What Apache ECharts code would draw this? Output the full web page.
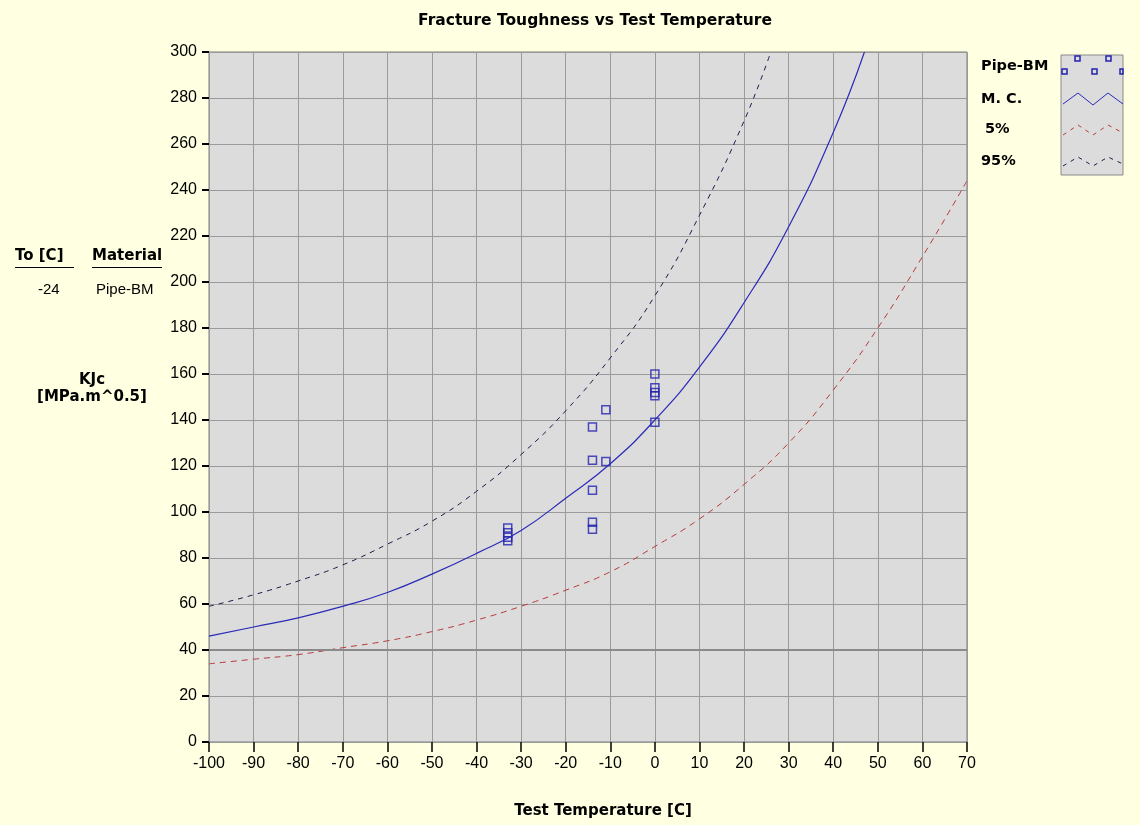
<!DOCTYPE html>
<html>
<head>
<meta charset="utf-8">
<script src="https://cdn.jsdelivr.net/npm/echarts@6/dist/echarts.min.js"></script>
<style>
  html, body { margin: 0; padding: 0; background: #ffffe1; }
  #chart { width: 1140px; height: 825px; }
</style>
</head>
<body>
<div id="chart"></div>
<script>
// measured KJc points (Pipe-BM)
const scatterTemp = [-33, -33, -33, -33, -14, -14, -14, -14, -14, -11, -11, 0, 0, 0, 0, 0];
const scatterK = [93, 91, 89, 87.5, 137, 122.5, 109.5, 95.5, 92.5, 144.5, 122, 160, 154, 152, 150.5, 139];

// master curve (median)
const mcTemp = [-100, -90, -80, -70, -60, -50, -40, -30, -20, -10, 0, 10, 20, 30, 40, 47];
const mcK = [46, 50, 54, 59, 65, 73, 82, 92, 106, 121, 140, 163, 191, 224, 265, 300];

// 5% tolerance bound
const p5Temp = [-100, -90, -80, -70, -60, -50, -40, -30, -20, -10, 0, 10, 20, 30, 40, 50, 60, 70];
const p5K = [34, 36, 38, 41, 44, 48, 53, 59, 66, 74, 85, 97, 112, 130, 153, 180, 211, 244];

// 95% tolerance bound
const p95Temp = [-100, -90, -80, -70, -60, -50, -40, -30, -20, -10, 0, 10, 20, 26];
const p95K = [59, 64, 70, 77, 86, 96, 109, 125, 144, 167, 194, 229, 270, 300];

const refLevel = 40;
const toValue = '-24';
const material = 'Pipe-BM';

const zip = (xs, ys) => xs.map((x, i) => [x, ys[i]]);

const chart = echarts.init(document.getElementById('chart'), null, { renderer: 'canvas' });

const boldFont = 'DejaVu Sans, Liberation Sans, sans-serif';
const labelFont = 'Liberation Sans, Arial, sans-serif';
const bold = (size) => ({ fontFamily: boldFont, fontWeight: 'bold', fontSize: size, fill: '#000' });

const option = {
  backgroundColor: '#ffffe1',
  animation: false,
  title: {
    text: 'Fracture Toughness vs Test Temperature',
    left: 590, top: 8, textAlign: 'center',
    textStyle: { fontFamily: boldFont, fontWeight: 'bold', fontSize: 15.5, color: '#000' }
  },
  grid: {
    left: 209, right: 173, top: 52, bottom: 83,
    show: true, backgroundColor: '#dcdcdc', borderColor: '#7a7a7a', borderWidth: 1
  },
  xAxis: {
    type: 'value', min: -100, max: 70, interval: 10,
    axisLine: { show: false, onZero: false },
    axisTick: { show: true, inside: false, length: 10, lineStyle: { color: '#000', width: 1.5 } },
    axisLabel: { fontFamily: labelFont, fontSize: 16, color: '#000', margin: 14 },
    splitLine: { show: true, lineStyle: { color: '#9a9a9a', width: 1 } }
  },
  yAxis: {
    type: 'value', min: 0, max: 300, interval: 20,
    axisLine: { show: false, onZero: false },
    axisTick: { show: true, inside: false, length: 7, lineStyle: { color: '#000', width: 2 } },
    axisLabel: { fontFamily: labelFont, fontSize: 16, color: '#000', margin: 12 },
    splitLine: { show: true, lineStyle: { color: '#9a9a9a', width: 1 } }
  },
  series: [
    {
      name: '95%', type: 'line', smooth: true, showSymbol: false,
      data: zip(p95Temp, p95K),
      lineStyle: { color: '#1c1c4a', width: 1, type: [5, 5] },
      markLine: {
        silent: true, symbol: 'none', label: { show: false },
        lineStyle: { color: '#8a8a8a', width: 2, type: 'solid' },
        data: [{ yAxis: refLevel }]
      }
    },
    {
      name: '5%', type: 'line', smooth: true, showSymbol: false,
      data: zip(p5Temp, p5K),
      lineStyle: { color: '#b83a3a', width: 1, type: [6, 5] }
    },
    {
      name: 'M. C.', type: 'line', smooth: true, showSymbol: false,
      data: zip(mcTemp, mcK),
      lineStyle: { color: '#2a2ab8', width: 1.2 }
    },
    {
      name: 'Pipe-BM', type: 'scatter', symbol: 'rect', symbolSize: 8,
      data: zip(scatterTemp, scatterK),
      itemStyle: { color: 'transparent', borderColor: '#2222b0', borderWidth: 1.5 }
    }
  ],
  graphic: [
    // x axis title
    { type: 'text', x: 603, y: 804, style: Object.assign({ text: 'Test Temperature [C]', align: 'center' }, bold(15)) },
    // left info block
    { type: 'text', left: 15, top: 249, style: Object.assign({ text: 'To [C]' }, bold(15)) },
    { type: 'line', shape: { x1: 15, y1: 267.5, x2: 74, y2: 267.5 }, style: { stroke: '#000', lineWidth: 1 } },
    { type: 'text', left: 92, top: 249, style: Object.assign({ text: 'Material' }, bold(15)) },
    { type: 'line', shape: { x1: 92, y1: 267.5, x2: 162, y2: 267.5 }, style: { stroke: '#000', lineWidth: 1 } },
    { type: 'text', left: 38, top: 282, style: { text: toValue, fontFamily: labelFont, fontSize: 15, fill: '#000' } },
    { type: 'text', left: 96, top: 282, style: { text: material, fontFamily: labelFont, fontSize: 15, fill: '#000' } },
    { type: 'text', x: 92, y: 373, style: Object.assign({ text: 'KJc', align: 'center' }, bold(15)) },
    { type: 'text', x: 92, y: 390, style: Object.assign({ text: '[MPa.m^0.5]', align: 'center' }, bold(15)) },
    // legend
    { type: 'text', left: 981, top: 59, style: Object.assign({ text: 'Pipe-BM' }, bold(14.5)) },
    { type: 'text', left: 981, top: 92, style: Object.assign({ text: 'M. C.' }, bold(14.5)) },
    { type: 'text', left: 985, top: 122, style: Object.assign({ text: '5%' }, bold(14.5)) },
    { type: 'text', left: 981, top: 154, style: Object.assign({ text: '95%' }, bold(14.5)) },
    { type: 'rect', shape: { x: 1061, y: 55, width: 62, height: 120 }, style: { fill: '#dcdcdc', stroke: '#8a8a8a', lineWidth: 1 } },
    { type: 'rect', shape: { x: 1075, y: 56, width: 5, height: 5 }, style: { fill: 'none', stroke: '#2222b0', lineWidth: 1.5 } },
    { type: 'rect', shape: { x: 1106, y: 56, width: 5, height: 5 }, style: { fill: 'none', stroke: '#2222b0', lineWidth: 1.5 } },
    { type: 'rect', shape: { x: 1062, y: 69, width: 5, height: 5 }, style: { fill: 'none', stroke: '#2222b0', lineWidth: 1.5 } },
    { type: 'rect', shape: { x: 1092, y: 69, width: 5, height: 5 }, style: { fill: 'none', stroke: '#2222b0', lineWidth: 1.5 } },
    { type: 'rect', shape: { x: 1120, y: 69, width: 3, height: 5 }, style: { fill: 'none', stroke: '#2222b0', lineWidth: 1.5 } },
    { type: 'polyline', shape: { points: [[1063, 104], [1078, 93], [1093, 105], [1108, 93], [1123, 104]] }, style: { fill: 'none', stroke: '#2a2ab8', lineWidth: 1 } },
    { type: 'polyline', shape: { points: [[1063, 135], [1078, 125], [1093, 135], [1108, 125], [1123, 133]] }, style: { fill: 'none', stroke: '#b83a3a', lineWidth: 1, lineDash: [4, 5] } },
    { type: 'polyline', shape: { points: [[1063, 166], [1078, 157], [1093, 166], [1108, 157], [1123, 164]] }, style: { fill: 'none', stroke: '#1c1c4a', lineWidth: 1, lineDash: [4, 5] } }
  ]
};

chart.setOption(option);
</script>
</body>
</html>
